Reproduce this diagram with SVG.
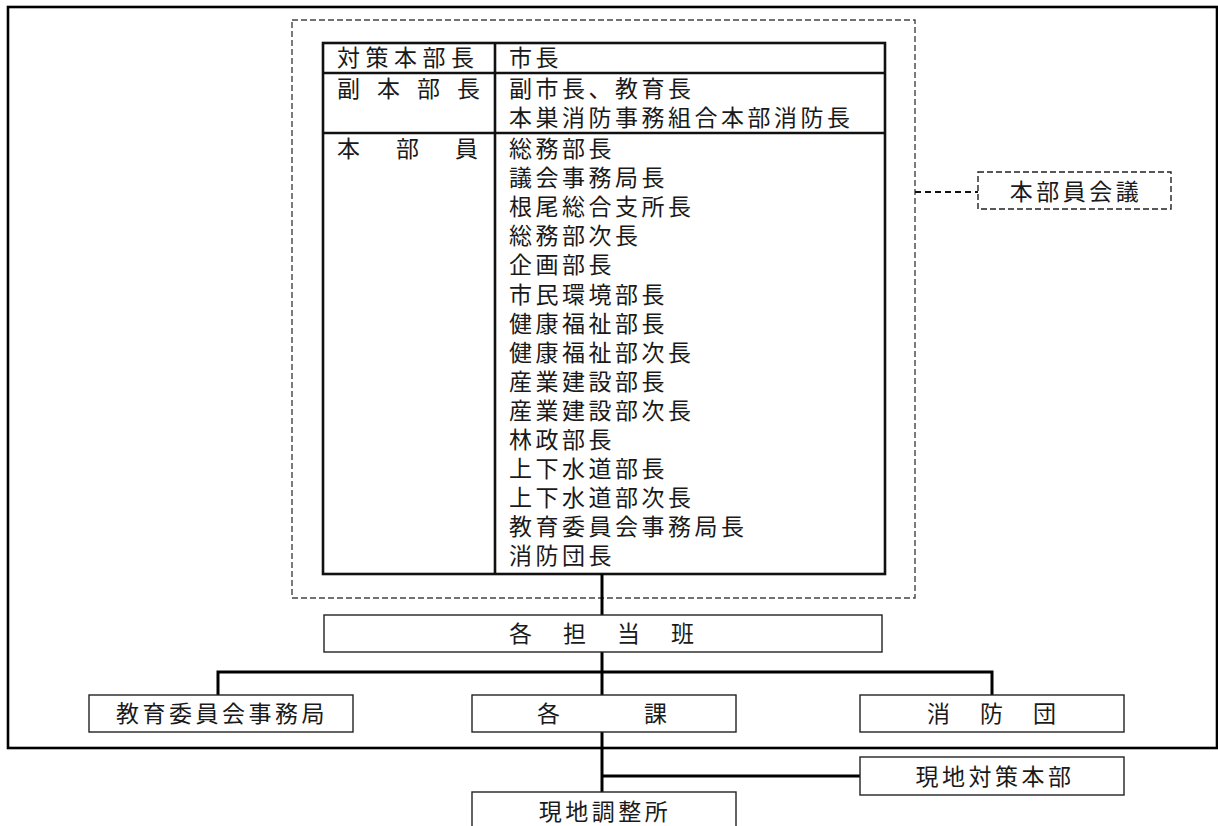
<svg xmlns="http://www.w3.org/2000/svg" width="1218" height="826" viewBox="0 0 1218 826">
<style>
text{font-family:"Noto Sans CJK JP","Noto Sans CJK SC",sans-serif;font-size:23px;fill:#1a1a1a;letter-spacing:3.5px}
.box{fill:#fff;stroke:#222;stroke-width:1.4}
.dash{fill:none;stroke:#444;stroke-width:1.4;stroke-dasharray:6 3}
.tbl{fill:none;stroke:#111;stroke-width:2.6}
.conn{fill:none;stroke:#000;stroke-width:3}
.mid{text-anchor:middle}
</style>
<rect x="8" y="7" width="1209" height="741" fill="none" stroke="#000" stroke-width="2.6"/>
<g id="hq-frame">
<rect class="dash" x="292" y="20" width="623" height="578"/>
</g>
<g id="hq-table">
<rect class="tbl" x="323" y="43" width="562" height="531"/>
<line class="tbl" x1="495" y1="43" x2="495" y2="574"/>
<line class="tbl" x1="323" y1="73" x2="885" y2="73"/>
<line class="tbl" x1="323" y1="133" x2="885" y2="133"/>
<text x="337 365.5 394 422.5 451" y="66">対策本部長</text>
<text x="337 377 417 457" y="97">副本部長</text>
<text x="337 396 455" y="157">本部員</text>
<text x="509" y="66">市長</text>
<text x="509" y="97">副市長、教育長</text>
<text x="509" y="126">本巣消防事務組合本部消防長</text>
<text x="509" y="157">総務部長</text>
<text x="509" y="186.1">議会事務局長</text>
<text x="509" y="215.2">根尾総合支所長</text>
<text x="509" y="244.3">総務部次長</text>
<text x="509" y="273.4">企画部長</text>
<text x="509" y="302.5">市民環境部長</text>
<text x="509" y="331.6">健康福祉部長</text>
<text x="509" y="360.7">健康福祉部次長</text>
<text x="509" y="389.8">産業建設部長</text>
<text x="509" y="418.9">産業建設部次長</text>
<text x="509" y="448">林政部長</text>
<text x="509" y="477.1">上下水道部長</text>
<text x="509" y="506.2">上下水道部次長</text>
<text x="509" y="535.3">教育委員会事務局長</text>
<text x="509" y="564.4">消防団長</text>
</g>
<g id="connectors">
<line x1="915" y1="192" x2="978" y2="192" style="fill:none;stroke:#111;stroke-width:2;stroke-dasharray:6 4"/>
<line class="conn" x1="602" y1="574" x2="602" y2="615"/>
<line class="conn" x1="602" y1="652" x2="602" y2="695"/>
<polyline class="conn" points="218,695 218,672 992,672 992,695"/>
<line class="conn" x1="602" y1="732" x2="602" y2="792"/>
<line class="conn" x1="602" y1="776" x2="860" y2="776"/>
</g>
<g id="meeting">
<rect x="978" y="172" width="193" height="37" style="fill:none;stroke:#222;stroke-width:1.4;stroke-dasharray:6 3"/>
<text class="mid" x="1076" y="200">本部員会議</text>
</g>
<g id="teams">
<rect class="box" x="324" y="615" width="558" height="37"/>
<text x="509 563 617 671" y="642">各担当班</text>
</g>
<g id="edu">
<rect class="box" x="89" y="695" width="264" height="37"/>
<text class="mid" x="222" y="722">教育委員会事務局</text>
</g>
<g id="sections">
<rect class="box" x="472" y="695" width="264" height="37"/>
<text x="537 644" y="722">各課</text>
</g>
<g id="fire">
<rect class="box" x="860" y="695" width="264" height="37"/>
<text x="927 980 1033" y="722">消防団</text>
</g>
<g id="local-hq">
<rect class="box" x="860" y="757" width="264" height="38"/>
<text class="mid" x="995" y="785">現地対策本部</text>
</g>
<g id="local-coord">
<rect class="box" x="472" y="792" width="264" height="40"/>
<text class="mid" x="605" y="820">現地調整所</text>
</g>
</svg>
